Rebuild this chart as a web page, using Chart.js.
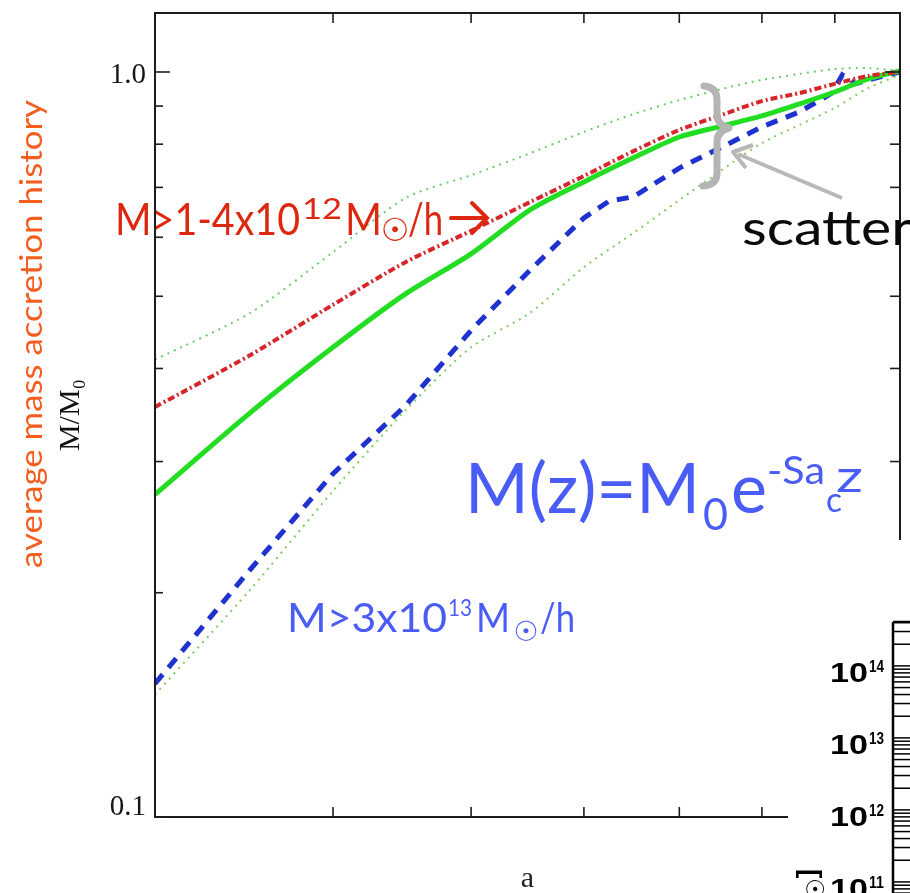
<!DOCTYPE html>
<html><head><meta charset="utf-8">
<script src="https://cdn.jsdelivr.net/npm/chart.js@4.4.1/dist/chart.umd.min.js"></script>
<style>
html,body{margin:0;padding:0;background:#fff;overflow:hidden;width:910px;height:893px}
#wrap{position:relative;width:910px;height:893px;overflow:hidden}
#main{position:absolute;left:0;top:0}
#inset{position:absolute;left:788px;top:540px;background:#fff}
</style></head><body>
<div id="wrap">
<canvas id="main" width="910" height="893" style="width:910px;height:893px"></canvas>
<canvas id="inset" width="122" height="420" style="width:122px;height:420px"></canvas>
</div>
<script>
// ---- data ----
const aGrid          = [0.30, 0.35, 0.40, 0.45, 0.50, 0.55, 0.60, 0.65, 0.70, 0.75, 0.80, 0.85, 0.90, 0.95, 1.00];
const meanHistory    = [0.271,0.349,0.427,0.504,0.570,0.653,0.712,0.767,0.818,0.846,0.873,0.906,0.940,0.979,1.003];
const lowMassHistory = [0.355,0.417,0.487,0.556,0.612,0.669,0.725,0.783,0.836,0.876,0.914,0.937,0.964,0.988,1.000];
const scatterUpper   = [0.411,0.475,0.573,0.678,0.727,0.778,0.831,0.878,0.917,0.949,0.976,0.994,1.009,1.012,1.003];
const scatterLower   = [0.146,0.202,0.274,0.352,0.427,0.475,0.547,0.608,0.673,0.739,0.803,0.849,0.895,0.952,0.991];
const highMassA       = [0.30, 0.35, 0.40, 0.45, 0.50, 0.55, 0.60, 0.625,0.65, 0.70, 0.75, 0.80, 0.85, 0.896,0.911,0.93, 0.95, 1.00];
const highMassHistory = [0.151,0.215,0.289,0.357,0.450,0.542,0.637,0.671,0.680,0.743,0.793,0.844,0.884,0.937,0.991,0.964,0.976,1.000];

const yTickLabelValues = [1.0, 0.1];
const yTickLabels      = ['1.0', '0.1'];
const yMinorTickValues = [0.2, 0.3, 0.4, 0.5, 0.6, 0.7, 0.8, 0.9];
const xTickValues      = [0.4, 0.5, 0.6, 0.7, 0.8, 0.9];
const insetTickValues  = [1e11, 1e12, 1e13, 1e14];
const insetTickBase    = ['10', '10', '10', '10'];
const insetTickExp     = ['11', '12', '13', '14'];

const pts = (xs, ys) => xs.map((x, i) => ({x, y: ys[i]}));

function txt(ctx, s, x, y, font, color, fitW) {
  ctx.font = font; ctx.fillStyle = color; ctx.textAlign = 'left'; ctx.textBaseline = 'alphabetic';
  if (fitW) {
    const w = ctx.measureText(s).width;
    ctx.save(); ctx.translate(x, y); ctx.scale(fitW / w, 1); ctx.fillText(s, 0, 0); ctx.restore();
  } else ctx.fillText(s, x, y);
}
function sun(ctx, cx, cy, size, color) {
  ctx.font = size + 'px "DejaVu Sans"'; ctx.fillStyle = color;
  ctx.textAlign = 'center'; ctx.textBaseline = 'middle';
  ctx.fillText('☉', cx, cy);
}
function seg(ctx, x1, y1, x2, y2) { ctx.beginPath(); ctx.moveTo(x1, y1); ctx.lineTo(x2, y2); ctx.stroke(); }

const mainDecor = {
  id: 'mainDecor',
  afterDatasetsDraw(chart) {
    const {ctx, chartArea: ca, scales: {x, y}} = chart;
    ctx.save();
    // frame
    ctx.strokeStyle = '#1c1c1c'; ctx.lineWidth = 2;
    ctx.strokeRect(ca.left, ca.top, ca.right - ca.left, ca.bottom - ca.top);
    ctx.lineWidth = 1.6;
    yMinorTickValues.forEach(v => {
      const py = y.getPixelForValue(v);
      seg(ctx, ca.left, py, ca.left + 8, py);
      if (v !== 0.6) seg(ctx, ca.right - 10, py, ca.right, py);
    });
    yTickLabelValues.forEach(v => {
      const py = y.getPixelForValue(v);
      seg(ctx, ca.left, py, ca.left + 15, py);
      seg(ctx, ca.right - 15, py, ca.right, py);
    });
    xTickValues.forEach(v => {
      const px = x.getPixelForValue(v);
      seg(ctx, px, ca.top, px, ca.top + 10);
      seg(ctx, px, ca.bottom - 10, px, ca.bottom);
    });
    // y tick labels
    ctx.font = '29px "Liberation Serif"'; ctx.fillStyle = '#151515';
    ctx.textAlign = 'right'; ctx.textBaseline = 'alphabetic';
    yTickLabelValues.forEach((v, i) => {
      const py = y.getPixelForValue(v);
      ctx.fillText(yTickLabels[i], ca.left - 9, i === 0 ? py + 11 : py - 2);
    });

    // orange rotated caption
    ctx.save();
    ctx.translate(42, 568); ctx.rotate(-Math.PI / 2);
    txt(ctx, 'average mass accretion history', 0, 0, '31px Lato', '#f55d1f', 468);
    ctx.restore();

    // red label
    const RED = '#dc2810';
    txt(ctx, 'M>1-4x10', 115, 235, '44px Lato', RED, 185);
    txt(ctx, '12', 302, 219, '28px Lato', RED, 40);
    txt(ctx, 'M', 345, 235, '44px Lato', RED, 37);
    sun(ctx, 395, 233, 32, RED);
    txt(ctx, '/h', 408, 235, '44px Lato', RED, 35);
    ctx.strokeStyle = RED; ctx.lineWidth = 4; ctx.lineCap = 'round';
    seg(ctx, 451, 218, 486, 218);
    ctx.beginPath(); ctx.moveTo(472, 203); ctx.lineTo(487, 218); ctx.lineTo(472, 233); ctx.stroke();

    // blue formula
    const BLUE = '#4a5cf6';
    txt(ctx, 'M(z)=M', 465, 513, '70px Lato', BLUE, 235);
    txt(ctx, '0', 703, 530, '44px Lato', BLUE, 25);
    txt(ctx, 'e', 731, 513, '70px Lato', BLUE, 36);
    txt(ctx, '-Sa', 767, 484, '38px Lato', BLUE, 58);
    txt(ctx, 'c', 826, 512, '34px Lato', BLUE, 16);
    txt(ctx, 'z', 836, 492, '44px Lato', BLUE, 27);

    // blue label
    txt(ctx, 'M>3x10', 287, 632, '40px Lato', BLUE, 160);
    txt(ctx, '13', 448, 616, '24px Lato', BLUE, 24);
    txt(ctx, 'M', 476, 632, '40px Lato', BLUE, 34);
    sun(ctx, 526, 634, 28, BLUE);
    txt(ctx, '/h', 540, 632, '40px Lato', BLUE, 35);

    // scatter annotation
    txt(ctx, 'scatter', 742, 245, '48px Lato', '#0a0a0a', 170);
    ctx.strokeStyle = '#b4b4b4'; ctx.lineWidth = 7; ctx.lineCap = 'round'; ctx.lineJoin = 'round';
    ctx.beginPath();
    ctx.moveTo(704, 86);
    ctx.quadraticCurveTo(717, 87, 717, 100);
    ctx.lineTo(717, 114);
    ctx.quadraticCurveTo(717, 125, 729, 128);
    ctx.quadraticCurveTo(717, 131, 717, 142);
    ctx.lineTo(717, 173);
    ctx.quadraticCurveTo(717, 185, 703, 186);
    ctx.stroke();
    ctx.strokeStyle = '#b8b8b8'; ctx.lineWidth = 4; ctx.lineCap = 'butt';
    seg(ctx, 842, 198, 738, 154);
    ctx.beginPath(); ctx.moveTo(753, 145); ctx.lineTo(733, 152); ctx.lineTo(746, 168); ctx.stroke();
    ctx.restore();
  }
};

new Chart(document.getElementById('main'), {
  type: 'line',
  data: {
    datasets: [
      { label: 'M>1-4x10^12', data: pts(aGrid, lowMassHistory), borderColor: '#d6262a', borderWidth: 4,
        borderDash: [7, 3, 2, 3], pointRadius: 0, tension: 0.25, fill: false },
      { label: 'mean', data: pts(aGrid, meanHistory), borderColor: '#22dd22', borderWidth: 5,
        pointRadius: 0, tension: 0.25, fill: false },
      { label: 'M>3x10^13', data: pts(highMassA, highMassHistory), borderColor: '#1e32d0', borderWidth: 5,
        borderDash: [12, 9], pointRadius: 0, tension: 0, fill: false },
      { label: 'upper', data: pts(aGrid, scatterUpper), borderColor: '#6ccc6c', borderWidth: 2,
        borderDash: [2, 5], pointRadius: 0, tension: 0.25, fill: false },
      { label: 'lower', data: pts(aGrid, scatterLower), borderColor: '#80cc66', borderWidth: 2,
        borderDash: [2, 5], pointRadius: 0, tension: 0.25, fill: false }
    ]
  },
  options: {
    responsive: false, animation: false, events: [],
    layout: { padding: { left: 0, top: 13, right: 10, bottom: 0 } },
    plugins: { legend: { display: false }, tooltip: { enabled: false } },
    scales: {
      x: { type: 'logarithmic', min: 0.3, max: 1.0, position: 'bottom',
        afterFit(s) { s.height = 76; },
        ticks: { display: false }, grid: { display: false }, border: { display: false },
        title: { display: true, text: 'a', color: '#222',
          font: { family: '"Liberation Serif"', size: 30, lineHeight: 0.95 }, padding: { top: 0, bottom: 0 } } },
      y: { type: 'logarithmic', min: 0.1, max: 1.2, position: 'left',
        afterFit(s) { s.width = 155; },
        ticks: { display: false }, grid: { display: false }, border: { display: false },
        title: { display: true, text: 'M/M₀', color: '#111',
          font: { family: '"Liberation Serif"', size: 30, lineHeight: 1.2 }, padding: { top: 53, bottom: 0 } } }
    }
  },
  plugins: [mainDecor]
});

// ---- inset (partial second panel) ----
const insetDecor = {
  id: 'insetDecor',
  afterDraw(chart) {
    const {ctx, chartArea: ca, scales: {y}} = chart;
    ctx.save();
    ctx.strokeStyle = '#000'; ctx.lineWidth = 2.5;
    seg(ctx, ca.left, ca.top, ca.left, chart.height);
    seg(ctx, ca.left, ca.top, chart.width, ca.top);
    ctx.lineWidth = 1.5;
    const e0 = Math.floor(Math.log10(y.min)), e1 = Math.ceil(Math.log10(y.max));
    for (let e = e0; e <= e1; e++) {
      for (let m = 1; m <= 9; m++) {
        const v = m * Math.pow(10, e);
        if (v < y.min || v > y.max) continue;
        const py = y.getPixelForValue(v);
        seg(ctx, ca.left, py, chart.width, py);
      }
    }
    // decade labels
    insetTickValues.forEach((v, i) => {
      const py = y.getPixelForValue(v);
      txt(ctx, insetTickBase[i], ca.left - 63, py + 16, 'bold 28px "Liberation Sans"', '#000', 38);
      txt(ctx, insetTickExp[i], ca.left - 24, py + 6, 'bold 17px "Liberation Sans"', '#000', 15);
    });
    // fragment of the rotated unit label of the hidden panel
    ctx.translate(28, 329); ctx.rotate(-Math.PI / 2);
    ctx.fillStyle = '#000'; ctx.textBaseline = 'alphabetic'; ctx.textAlign = 'right';
    ctx.font = 'bold 28px "Liberation Sans"';
    const wb = ctx.measureText(']').width;
    ctx.fillText(']', 0, 0);
    ctx.font = 'bold 24px "DejaVu Sans"';
    ctx.fillText('☉', -wb, 8);
    ctx.restore();
  }
};

new Chart(document.getElementById('inset'), {
  type: 'line',
  data: { datasets: [] },
  options: {
    responsive: false, animation: false, events: [],
    layout: { padding: { top: 82, right: 0, left: 0, bottom: 20 } },
    plugins: { legend: { display: false }, tooltip: { enabled: false } },
    scales: {
      x: { type: 'linear', display: false, min: 0, max: 1 },
      y: { type: 'logarithmic', min: 1.56e10, max: 4.07e14, position: 'left',
        afterFit(s) { s.width = 105; },
        grid: { display: false, drawTicks: false }, border: { display: false },
        ticks: { display: false } }
    }
  },
  plugins: [insetDecor]
});
</script>
</body></html>
